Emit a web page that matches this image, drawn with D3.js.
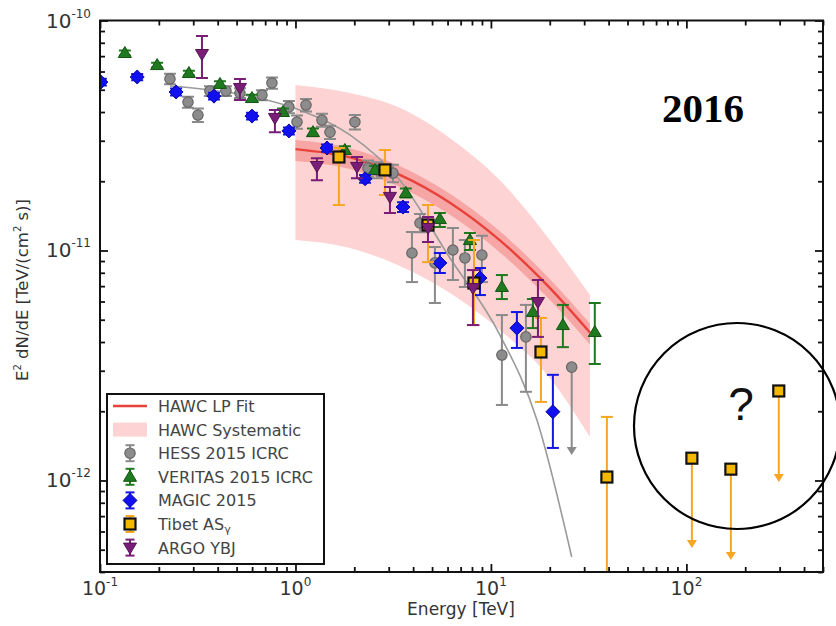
<!DOCTYPE html>
<html><head><meta charset="utf-8">
<script src="https://cdnjs.cloudflare.com/ajax/libs/d3/7.8.5/d3.min.js"></script>
<style>html,body{margin:0;padding:0;background:#fff;} svg{display:block;}</style>
</head><body>
<svg id="chart" width="836" height="626"></svg>
<script>
// Crab-like spectrum, E^2 dN/dE in TeV/(cm^2 s) versus energy in TeV.
// Rows are [energy, flux, fluxLow, fluxHigh].
const magic = [
  [0.101, 5.40e-11, 5.22e-11, 5.58e-11],
  [0.155, 5.68e-11, 5.50e-11, 5.86e-11],
  [0.245, 4.89e-11, 4.72e-11, 5.06e-11],
  [0.383, 4.69e-11, 4.53e-11, 4.85e-11],
  [0.599, 3.84e-11, 3.71e-11, 3.97e-11],
  [0.926, 3.31e-11, 3.19e-11, 3.43e-11],
  [1.45, 2.79e-11, 2.69e-11, 2.89e-11],
  [2.27, 2.05e-11, 1.97e-11, 2.13e-11],
  [3.55, 1.545e-11, 1.47e-11, 1.62e-11],
  [5.48, 8.83e-12, 7.98e-12, 9.75e-12],
  [8.79, 7.59e-12, 6.40e-12, 8.39e-12],
  [13.58, 4.60e-12, 3.77e-12, 5.40e-12],
  [20.75, 1.99e-12, 1.385e-12, 2.88e-12]
];
const veritas = [
  [0.134, 7.22e-11, 7.05e-11, 7.40e-11],
  [0.196, 6.40e-11, 6.25e-11, 6.55e-11],
  [0.285, 5.91e-11, 5.77e-11, 6.05e-11],
  [0.411, 5.30e-11, 5.15e-11, 5.45e-11],
  [0.599, 4.60e-11, 4.45e-11, 4.75e-11],
  [0.863, 4.00e-11, 3.86e-11, 4.14e-11],
  [1.229, 3.27e-11, 3.15e-11, 3.39e-11],
  [1.79, 2.735e-11, 2.63e-11, 2.84e-11],
  [2.55, 2.24e-11, 2.15e-11, 2.33e-11],
  [3.67, 1.78e-11, 1.70e-11, 1.86e-11],
  [5.48, 1.37e-11, 1.265e-11, 1.455e-11],
  [7.81, 1.11e-11, 1.005e-11, 1.19e-11],
  [11.38, 6.94e-12, 6.15e-12, 7.82e-12],
  [16.4, 5.40e-12, 4.60e-12, 6.15e-12],
  [23.35, 4.74e-12, 3.80e-12, 5.80e-12],
  [34.0, 4.42e-12, 3.21e-12, 5.91e-12]
];
const hess = [
  [0.228, 5.57e-11, 5.28e-11, 5.87e-11],
  [0.282, 4.42e-11, 4.18e-11, 4.66e-11],
  [0.317, 3.88e-11, 3.62e-11, 4.14e-11],
  [0.365, 4.94e-11, 4.70e-11, 5.18e-11],
  [0.441, 4.94e-11, 4.70e-11, 5.18e-11],
  [0.52, 4.84e-11, 4.60e-11, 5.08e-11],
  [0.674, 4.74e-11, 4.50e-11, 4.98e-11],
  [0.758, 5.35e-11, 5.05e-11, 5.65e-11],
  [0.926, 4.21e-11, 3.95e-11, 4.47e-11],
  [1.018, 3.62e-11, 3.38e-11, 3.86e-11],
  [1.132, 4.29e-11, 4.02e-11, 4.56e-11],
  [1.366, 3.69e-11, 3.45e-11, 3.93e-11],
  [1.502, 3.27e-11, 3.05e-11, 3.49e-11],
  [2.014, 3.62e-11, 3.36e-11, 3.88e-11],
  [2.35, 2.28e-11, 2.10e-11, 2.46e-11],
  [2.61, 2.24e-11, 2.06e-11, 2.42e-11],
  [3.154, 2.17e-11, 1.98e-11, 2.36e-11],
  [3.945, 9.75e-12, 7.29e-12, 1.203e-11],
  [4.335, 1.317e-11, 1.20e-11, 1.44e-11],
  [5.17, 8.83e-12, 5.91e-12, 1.035e-11],
  [6.39, 1.005e-11, 7.44e-12, 1.253e-11],
  [7.36, 9.28e-12, 6.94e-12, 1.11e-11],
  [8.99, 9.56e-12, 7.29e-12, 1.16e-11],
  [11.38, 3.51e-12, 2.13e-12, 5.24e-12],
  [15.1, 4.21e-12, 2.43e-12, 5.80e-12]
];
// Upper limits: [energy, flux, arrowTip]
const hessLimits = [[25.9, 3.11e-12, 1.29e-12]];
const tibet = [
  [1.669, 2.55e-11, 1.577e-11, 2.79e-11],
  [2.87, 2.24e-11, 1.745e-11, 2.735e-11],
  [4.764, 1.29e-11, 8.9e-12, 1.577e-11],
  [8.19, 7.22e-12, 4.74e-12, 1.11e-11],
  [18.03, 3.62e-12, 2.195e-12, 5.09e-12],
  [39.2, 1.035e-12, 3.0e-13, 1.89e-12]
];
const tibetLimits = [
  [106.7, 1.25e-12, 5.09e-13],
  [168.9, 1.12e-12, 4.51e-13],
  [297, 2.45e-12, 9.85e-13]
];
const argo = [
  [0.3324, 7.15e-11, 5.62e-11, 8.56e-11],
  [0.52, 5.09e-11, 4.51e-11, 5.57e-11],
  [0.785, 3.77e-11, 3.27e-11, 4.08e-11],
  [1.288, 2.33e-11, 2.02e-11, 2.52e-11],
  [2.064, 2.31e-11, 2.06e-11, 2.55e-11],
  [3.044, 1.71e-11, 1.455e-11, 1.89e-11],
  [4.764, 1.253e-11, 1.089e-11, 1.40e-11],
  [8.09, 6.87e-12, 4.74e-12, 8.22e-12],
  [17.4, 5.97e-12, 4.21e-12, 7.44e-12]
];

// HAWC log-parabola fit and its bands
const hawcE        = [1.0, 1.9, 3.42, 6.17, 11.12, 20.0, 32.1];
const hawcFit      = [2.76e-11, 2.54e-11, 2.13e-11, 1.612e-11, 1.106e-11, 6.88e-12, 4.40e-12];
const hawcSysHigh  = [5.24e-11, 4.84e-11, 4.17e-11, 3.08e-11, 2.02e-11, 1.11e-11, 6.40e-12];
const hawcSysLow   = [1.11e-11, 1.025e-11, 8.56e-12, 6.54e-12, 4.51e-12, 2.79e-12, 1.545e-12];
const hawcStatHigh = [3.02e-11, 2.785e-11, 2.33e-11, 1.764e-11, 1.211e-11, 7.52e-12, 4.81e-12];
const hawcStatLow  = [2.45e-11, 2.26e-11, 1.89e-11, 1.43e-11, 9.81e-12, 6.10e-12, 3.90e-12];

// HESS reference curve
const hessCurveE = [0.228, 0.585, 1.054, 1.9, 3.42, 6.17, 11.12, 17.2, 25.9];
const hessCurveF = [5.19e-11, 4.69e-11, 4.08e-11, 3.18e-11, 2.02e-11, 9.28e-12, 4.29e-12, 1.83e-12, 4.65e-13];

// Axis ticks
const xMajor = [0.1, 1, 10, 100];
const xExp = ["-1", "0", "1", "2"];
const yMajor = [1e-12, 1e-11, 1e-10];
const yExp = ["-12", "-11", "-10"];

const legendNames = ["HAWC LP Fit", "HAWC Systematic", "HESS 2015 ICRC", "VERITAS 2015 ICRC", "MAGIC 2015", "Tibet AS", "ARGO YBJ"];

const svg = d3.select("#chart");
const X0 = 100, X1 = 823, Y0 = 20.5, Y1 = 572;
const x = d3.scaleLog().domain([0.1, 500]).range([X0, X1]);
const y = d3.scaleLog().domain([4e-13, 1e-10]).range([Y1, Y0]);

const FONT = "'DejaVu Sans', sans-serif";
const TXT = "#333";

svg.append("defs").append("clipPath").attr("id", "plot")
  .append("rect").attr("x", X0).attr("y", Y0).attr("width", X1 - X0).attr("height", Y1 - Y0);

const plot = svg.append("g").attr("clip-path", "url(#plot)");

// HAWC bands
const idx = d3.range(hawcE.length);
const band = (lo, hi) => d3.area()
  .x(i => x(hawcE[i])).y0(i => y(lo[i])).y1(i => y(hi[i]))
  .curve(d3.curveMonotoneX)(idx);
plot.append("path").attr("d", band(hawcSysLow, hawcSysHigh)).attr("fill", "#fdd3d3");
plot.append("path").attr("d", band(hawcStatLow, hawcStatHigh)).attr("fill", "#f7a6a6");
plot.append("path")
  .attr("d", d3.line().x(i => x(hawcE[i])).y(i => y(hawcFit[i])).curve(d3.curveMonotoneX)(idx))
  .attr("fill", "none").attr("stroke", "#e8423a").attr("stroke-width", 2.4);

// HESS curve
plot.append("path")
  .attr("d", d3.line().x(i => x(hessCurveE[i])).y(i => y(hessCurveF[i])).curve(d3.curveMonotoneX)(d3.range(hessCurveE.length)))
  .attr("fill", "none").attr("stroke", "#9a9a9a").attr("stroke-width", 1.6);

// Marker shapes
function marker(g, type, cx, cy, fill, stroke) {
  let p;
  if (type === "circle") {
    g.append("circle").attr("cx", cx).attr("cy", cy).attr("r", 5.2)
      .attr("fill", fill).attr("stroke", stroke).attr("stroke-width", 1.2);
    return;
  }
  if (type === "up") p = `M${cx},${cy - 6.5}L${cx + 6.5},${cy + 4.5}L${cx - 6.5},${cy + 4.5}Z`;
  if (type === "down") p = `M${cx},${cy + 6.5}L${cx + 6.5},${cy - 4.5}L${cx - 6.5},${cy - 4.5}Z`;
  if (type === "diamond") p = `M${cx},${cy - 7}L${cx + 7},${cy}L${cx},${cy + 7}L${cx - 7},${cy}Z`;
  if (type === "square") {
    g.append("rect").attr("x", cx - 5.5).attr("y", cy - 5.5).attr("width", 11).attr("height", 11)
      .attr("fill", fill).attr("stroke", stroke).attr("stroke-width", 2.2);
    return;
  }
  g.append("path").attr("d", p).attr("fill", fill).attr("stroke", stroke).attr("stroke-width", 1);
}

function errorBar(g, cx, yHi, yLo, color, cap) {
  g.append("line").attr("x1", cx).attr("x2", cx).attr("y1", yHi).attr("y2", yLo)
    .attr("stroke", color).attr("stroke-width", 2);
  [yHi, yLo].forEach(v => g.append("line").attr("x1", cx - cap / 2).attr("x2", cx + cap / 2)
    .attr("y1", v).attr("y2", v).attr("stroke", color).attr("stroke-width", 2));
}

function series(data, type, color, fill, stroke) {
  const g = plot.append("g");
  data.forEach(d => errorBar(g, x(d[0]), y(d[3]), y(d[2]), color, 12));
  data.forEach(d => marker(g, type, x(d[0]), y(d[1]), fill, stroke));
  return g;
}

function limits(data, color, type, fill, stroke) {
  const g = plot.append("g");
  data.forEach(d => {
    const cx = x(d[0]), top = y(d[1]), tip = y(d[2]);
    g.append("line").attr("x1", cx).attr("x2", cx).attr("y1", top).attr("y2", tip - 4)
      .attr("stroke", color).attr("stroke-width", 2);
    g.append("path").attr("d", `M${cx - 5},${tip - 8}L${cx + 5},${tip - 8}L${cx},${tip}Z`).attr("fill", color);
    marker(g, type, cx, top, fill, stroke);
  });
}

const C = {
  hess: ["#8a8a8a", "#8c8c8c", "#666"],
  veritas: ["#1f7a1f", "#1f7a1f", "#145214"],
  magic: ["#1414e6", "#1010f0", "#0a0aa0"],
  tibet: ["#f6a623", "#f5b800", "#111"],
  argo: ["#7a1d78", "#7a1d78", "#561454"]
};

series(hess, "circle", ...C.hess);
limits(hessLimits, C.hess[0], "circle", C.hess[1], C.hess[2]);
series(veritas, "up", ...C.veritas);
series(magic, "diamond", ...C.magic);
series(tibet, "square", ...C.tibet);
limits(tibetLimits, C.tibet[0], "square", C.tibet[1], C.tibet[2]);
series(argo, "down", ...C.argo);

// Axes: inward ticks on all four sides
const xAll = x.ticks().filter(v => v >= 0.1 && v <= 500);
const yAll = y.ticks().filter(v => v >= 4e-13 && v <= 1e-10);
const isMajor = v => Math.abs(Math.log10(v) - Math.round(Math.log10(v))) < 1e-6;
const xMinor = xAll.filter(v => !isMajor(v));
const yMinor = yAll.filter(v => !isMajor(v));

function tickAxis(axisFn, scale, vals, len, transform) {
  const g = svg.append("g").attr("transform", transform)
    .call(axisFn(scale).tickValues(vals).tickFormat("").tickSizeInner(-len).tickSizeOuter(0));
  g.select(".domain").remove();
  g.selectAll("line").attr("stroke", "#111").attr("stroke-width", 1.8);
}
tickAxis(d3.axisBottom, x, xMajor, 8, `translate(0,${Y1})`);
tickAxis(d3.axisBottom, x, xMinor, 5, `translate(0,${Y1})`);
tickAxis(d3.axisTop, x, xMajor, 8, `translate(0,${Y0})`);
tickAxis(d3.axisTop, x, xMinor, 5, `translate(0,${Y0})`);
tickAxis(d3.axisLeft, y, yMajor, 8, `translate(${X0},0)`);
tickAxis(d3.axisLeft, y, yMinor, 5, `translate(${X0},0)`);
tickAxis(d3.axisRight, y, yMajor, 8, `translate(${X1},0)`);
tickAxis(d3.axisRight, y, yMinor, 5, `translate(${X1},0)`);

svg.append("rect").attr("x", X0).attr("y", Y0).attr("width", X1 - X0).attr("height", Y1 - Y0)
  .attr("fill", "none").attr("stroke", "#111").attr("stroke-width", 2);

// Tick labels with superscript exponents
xMajor.forEach((v, i) => {
  const t = svg.append("text").attr("x", x(v)).attr("y", 595).attr("text-anchor", "middle")
    .attr("font-family", FONT).attr("font-size", 19).attr("fill", TXT);
  t.append("tspan").text("10");
  t.append("tspan").attr("font-size", 12).attr("dy", -9).text(xExp[i]);
});
yMajor.forEach((v, i) => {
  const t = svg.append("text").attr("x", 91).attr("y", y(v) + 7).attr("text-anchor", "end")
    .attr("font-family", FONT).attr("font-size", 20).attr("fill", TXT);
  t.append("tspan").text("10");
  t.append("tspan").attr("font-size", 12).attr("dy", -10).text(yExp[i]);
});

// Axis titles
svg.append("text").attr("x", 461).attr("y", 615).attr("text-anchor", "middle")
  .attr("font-family", FONT).attr("font-size", 17).attr("fill", TXT).text("Energy [TeV]");
const yt = svg.append("text").attr("transform", "translate(28,290) rotate(-90)").attr("text-anchor", "middle")
  .attr("font-family", FONT).attr("font-size", 16.5).attr("fill", TXT);
yt.append("tspan").text("E");
yt.append("tspan").attr("font-size", 10).attr("dy", -7).text("2");
yt.append("tspan").attr("dy", 7).text(" dN/dE  [TeV/(cm");
yt.append("tspan").attr("font-size", 10).attr("dy", -7).text("2");
yt.append("tspan").attr("dy", 7).text(" s)]");

// Legend
const lg = svg.append("g");
lg.append("rect").attr("x", 107).attr("y", 394).attr("width", 217).attr("height", 170)
  .attr("fill", "#fff").attr("stroke", "#111").attr("stroke-width", 2);
const rowY = i => 406 + i * 23.6;
lg.append("line").attr("x1", 113).attr("x2", 147).attr("y1", rowY(0)).attr("y2", rowY(0))
  .attr("stroke", "#e8423a").attr("stroke-width", 2.5);
lg.append("rect").attr("x", 113).attr("y", rowY(1) - 7).attr("width", 34).attr("height", 14).attr("fill", "#fdd3d3");
const legendMarks = [
  ["circle", C.hess], ["up", C.veritas], ["diamond", C.magic], ["square", C.tibet], ["down", C.argo]
];
legendMarks.forEach((m, k) => {
  const cy = rowY(k + 2);
  errorBar(lg, 130, cy - 8, cy + 8, m[1][0], 9);
  marker(lg, m[0], 130, cy, m[1][1], m[1][2]);
});
legendNames.forEach((n, i) => {
  const t = lg.append("text").attr("x", 158).attr("y", rowY(i) + 6)
    .attr("font-family", FONT).attr("font-size", 16).attr("fill", "#444").text(n);
  if (i === 5) t.append("tspan").attr("font-size", 11).attr("dy", 3).text("γ");
});

// Annotations
svg.append("text").attr("x", 703).attr("y", 122).attr("text-anchor", "middle")
  .attr("font-family", "'Liberation Serif', serif").attr("font-weight", "bold")
  .attr("font-size", 41).attr("fill", "#000").text("2016");
svg.append("circle").attr("cx", 737).attr("cy", 426).attr("r", 103)
  .attr("fill", "none").attr("stroke", "#000").attr("stroke-width", 2.2);
svg.append("text").attr("x", 741).attr("y", 420).attr("text-anchor", "middle")
  .attr("font-family", "'Liberation Sans', sans-serif").attr("font-size", 46).attr("fill", "#111").text("?");
</script>
</body></html>
